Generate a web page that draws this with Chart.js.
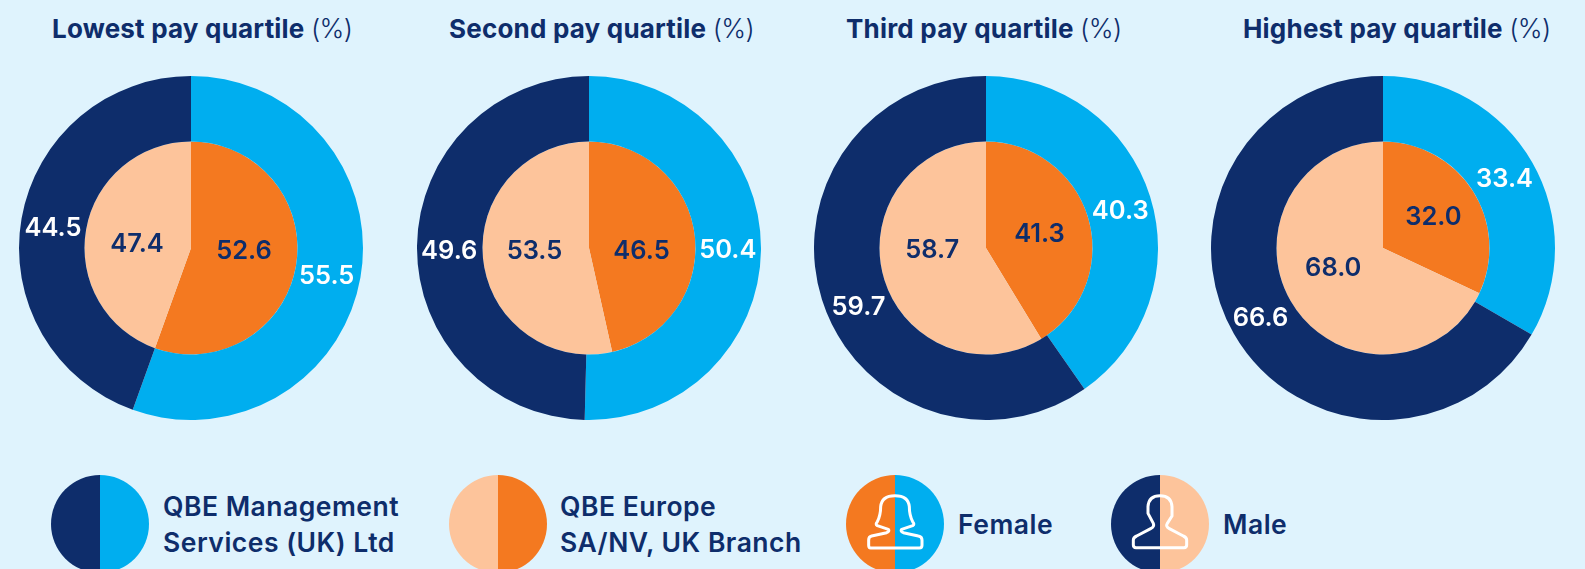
<!DOCTYPE html>
<html><head><meta charset="utf-8">
<script src="https://cdn.jsdelivr.net/npm/chart.js@4"></script>
<style>
html,body{margin:0;padding:0;width:1585px;height:569px;overflow:hidden;background:#DFF3FD;font-family:Inter,sans-serif;color:#0E2D6B}
canvas{position:absolute;display:block}
.t{position:absolute;top:10px;font-size:26px;line-height:36px;white-space:nowrap;font-weight:700;letter-spacing:.2px}
.t span{font-weight:300;letter-spacing:-.6px;font-size:26.5px}
.l{position:absolute;font-size:26.5px;line-height:36px;font-weight:600;white-space:nowrap;letter-spacing:.5px}
svg{position:absolute;left:820px;top:460px}
</style></head><body>
<div class="t" style="left:52px">Lowest pay quartile <span>(%)</span></div>
<div class="t" style="left:449px">Second pay quartile <span>(%)</span></div>
<div class="t" style="left:846px">Third pay quartile <span>(%)</span></div>
<div class="t" style="left:1243px">Highest pay quartile <span>(%)</span></div>
<canvas id="c0" style="left:19px;top:76px"></canvas>
<canvas id="c1" style="left:416.5px;top:76px"></canvas>
<canvas id="c2" style="left:813.5px;top:76px"></canvas>
<canvas id="c3" style="left:1211px;top:76px"></canvas>
<canvas id="k0" style="left:51px;top:475px"></canvas>
<canvas id="k1" style="left:448.5px;top:475px"></canvas>
<canvas id="k2" style="left:846px;top:475px"></canvas>
<canvas id="k3" style="left:1111px;top:475px"></canvas>
<div class="l" style="left:163px;top:488px">QBE Management<br>Services (UK) Ltd</div>
<div class="l" style="left:560px;top:488px">QBE Europe<br>SA/NV, UK Branch</div>
<div class="l" style="left:958px;top:506px">Female</div>
<div class="l" style="left:1223px;top:506px">Male</div>
<svg width="480" height="109" viewBox="0 0 1440 327" fill="none" stroke="#fff" stroke-width="9" stroke-linejoin="round">
<path d="M152 264H298Q306 264 306 256V240Q306 230 295 228L250 218Q240 214 245 208L278 197Q285 193 278 185Q268 165 268 140Q265 107 225 107Q185 107 182 140Q182 165 172 185Q165 193 172 197L205 208Q210 214 200 218L155 228Q146 230 146 240V256Q146 264 152 264Z"/>
<path d="M948 263H1092Q1100 263 1100 255V240Q1100 232 1090 228L1048 206Q1036 200 1042 190L1056 168V140Q1054 107 1020 107Q986 107 984 140V160L1000 190Q1004 200 992 206L950 228Q940 232 940 240V255Q940 263 948 263Z"/>
</svg>
<script>
const quartiles = ["Lowest", "Second", "Third", "Highest"];
const seriesNames = ["Female", "Male"];
// printed values
const managementFemale = [55.5, 50.4, 40.3, 33.4];
const managementMale   = [44.5, 49.6, 59.7, 66.6];
const europeFemale     = [52.6, 46.5, 41.3, 32.0];
const europeMale       = [47.4, 53.5, 58.7, 68.0];
// wedge sizes as the reference actually draws them: its first inner pie
// is cut at about 55.5 / 44.5 although it is labelled 52.6 / 47.4
const europeFemaleWedge = [55.5, 46.5, 41.3, 32.0];
const europeMaleWedge   = [44.5, 53.5, 58.7, 68.0];
// hand placement of the printed labels, relative to each wedge's centre point
const labelNudges = [
  [[[-1.5,4.5],[-0.8,4.5]],[[0.5,-6.3],[-1.5,5.5]]],
  [[[-0.4,1],[-0.5,4.8]],[[-0.4,8.8],[-1.6,-2.3]]],
  [[[1.4,5.6],[5.3,17.8]],[[2.2,0.4],[-2.5,-11.7]]],
  [[[0.8,0.3],[-1.8,1.1]],[[5.4,-1.8],[-4.8,-8.1]]]
];
const NAVY="#0E2D6B", BLUE="#00AEEF", ORANGE="#F47920", PEACH="#FDC49B";
const keyColors = [[BLUE,NAVY],[ORANGE,PEACH],[BLUE,ORANGE],[PEACH,NAVY]];

const valueLabels = {
  id:"valueLabels",
  afterDatasetsDraw(chart,args,opts){
    const ctx=chart.ctx;
    ctx.save();
    ctx.font="600 25.5px Inter, sans-serif";
    ctx.textAlign="center";ctx.textBaseline="middle";
    chart.data.datasets.forEach((ds,i)=>{
      chart.getDatasetMeta(i).data.forEach((arc,j)=>{
        const p=arc.tooltipPosition();
        const n=labelNudges[opts.index][i][j];
        ctx.fillStyle=i===0?"#fff":NAVY;
        ctx.fillText(ds.printed[j].toFixed(1),p.x+n[0],p.y+n[1]);
      });
    });
    ctx.restore();
  }
};
const baseOpts={responsive:false,animation:false,cutout:0,rotation:0,
  layout:{padding:0},plugins:{legend:{display:false},tooltip:{enabled:false}}};

quartiles.forEach((q,i)=>{
  const el=document.getElementById("c"+i);el.width=344;el.height=344;
  new Chart(el,{type:"doughnut",
    data:{labels:seriesNames,datasets:[
      {label:"QBE Management Services (UK) Ltd",data:[managementFemale[i],managementMale[i]],printed:[managementFemale[i],managementMale[i]],backgroundColor:[BLUE,NAVY],borderWidth:0,weight:65.5},
      {label:"QBE Europe SA/NV, UK Branch",data:[europeFemaleWedge[i],europeMaleWedge[i]],printed:[europeFemale[i],europeMale[i]],backgroundColor:[ORANGE,PEACH],borderWidth:0,weight:106.5}
    ]},
    options:{...baseOpts,plugins:{...baseOpts.plugins,valueLabels:{index:i}}},plugins:[valueLabels]});
});
keyColors.forEach((c,i)=>{
  const el=document.getElementById("k"+i);el.width=98;el.height=98;
  new Chart(el,{type:"pie",data:{labels:["a","b"],datasets:[{data:[1,1],backgroundColor:c,borderWidth:0}]},options:baseOpts});
});
</script>
</body></html>
